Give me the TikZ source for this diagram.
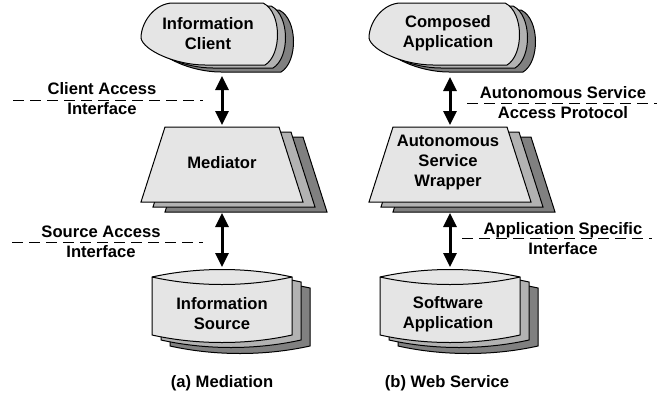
\documentclass[tikz,border=0pt]{standalone}
\usepackage{fontspec}
\setmainfont{Liberation Sans}
\usetikzlibrary{arrows.meta}

% shapes, drawn round the column centre (x) at fixed y
\newcommand{\clientshape}[2]{%
	\draw[#1] (-49,3) -- (#2,3) .. controls +(19,9) and +(17,-10) .. ++(2,62) -- (-17,65)
		.. controls (-47,65) and (-79,50) .. (-81,38) .. controls (-81,22) and (-67,3) .. (-49,3) -- cycle;}
\newcommand{\medshape}[1]{%
	\draw[#1] (-57,127) -- (57,127) -- (81,202) -- (-81,202) -- cycle;}
\newcommand{\srcshape}[1]{%
	\draw[#1] (-70,277) .. controls (-25,267) and (25,267) .. (70,277) -- (70,335)
		.. controls (25,345) and (-25,345) .. (-70,335) -- cycle;}

\tikzset{
	shapeline/.style={draw=black, line width=1pt, line join=miter},
	layerC/.style={shapeline, fill=black!50},
	layerB/.style={shapeline, fill=black!30},
	front/.style={shapeline, fill=black!10},
	lbl/.style={font=\fontsize{16.6}{20}\selectfont\bfseries, align=center, inner sep=0pt},
	biarrow/.style={line width=3pt, {Triangle[length=14pt,width=13pt]}-{Triangle[length=14pt,width=13pt]}},
	iface/.style={line width=1pt, dash pattern=on 11pt off 6pt},
}

\begin{document}
\begin{tikzpicture}[x=1pt,y=-1pt]
		\useasboundingbox (0,0) rectangle (667,397);

		% (a) mediation
		\begin{scope}[xshift=222]
			\clientshape{layerC,shift={(16,7)}}{41}
			\clientshape{layerB,shift={(8,3)}}{41}
			\clientshape{front}{41}
			\node[lbl] (client) at (-14,34) {Information\\Client};

			\medshape{layerC,shift={(24,10)}}
			\medshape{layerB,shift={(12,5)}}
			\medshape{front}
			\node[lbl] (mediator) at (0,163) {Mediator};

			\srcshape{layerC,shift={(18,11)}}
			\srcshape{layerB,shift={(9,5)}}
			\srcshape{front}
			\draw[shapeline] (-70,277) .. controls (-25,287) and (25,287) .. (70,277);
			\node[lbl] (source) at (0,314) {Information\\Source};

			\coordinate (client-s) at (0,76);
			\coordinate (mediator-n) at (0,125);
			\coordinate (mediator-s) at (0,213);
			\coordinate (source-n) at (0,267);
			\draw[biarrow] (client-s) -- (mediator-n);
			\draw[biarrow] (mediator-s) -- (source-n);

			\node[lbl] (capA) at (0,383) {(a) Mediation};
		\end{scope}

		% (b) web service
		\begin{scope}[xshift=450]
			\clientshape{layerC,shift={(16,7)}}{55}
			\clientshape{layerB,shift={(8,3)}}{55}
			\clientshape{front}{55}
			\node[lbl] (composed) at (-2,33) {Composed\\Application};

			\medshape{layerC,shift={(24,10)}}
			\medshape{layerB,shift={(12,5)}}
			\medshape{front}
			\node[lbl] (wrapper) at (-2,163) {Autonomous\\Service\\Wrapper};

			\srcshape{layerC,shift={(18,11)}}
			\srcshape{layerB,shift={(9,5)}}
			\srcshape{front}
			\draw[shapeline] (-70,277) .. controls (-25,287) and (25,287) .. (70,277);
			\node[lbl] (software) at (-2,314) {Software\\Application};

			\coordinate (composed-s) at (0,77);
			\coordinate (wrapper-n) at (0,125);
			\coordinate (wrapper-s) at (0,213);
			\coordinate (software-n) at (0,267);
			\draw[biarrow] (composed-s) -- (wrapper-n);
			\draw[biarrow] (wrapper-s) -- (software-n);

			\node[lbl] (capB) at (-3,383) {(b) Web Service};
		\end{scope}

		% interface labels
		\draw[iface] (13,100) -- (203,100);
		\node[lbl] (clientif) at (102,99) {Client Access\\Interface};
		\draw[iface] (12,242) -- (203,242);
		\node[lbl] (sourceif) at (101,242) {Source Access\\Interface};
		\draw[iface] (467,103) -- (657,103);
		\node[lbl] (protocolif) at (563,103) {Autonomous Service\\Access Protocol};
		\draw[iface] (462,238) -- (652,238);
		\node[lbl] (appif) at (563,239) {Application Specific\\Interface};

	\end{tikzpicture}
\end{document}
